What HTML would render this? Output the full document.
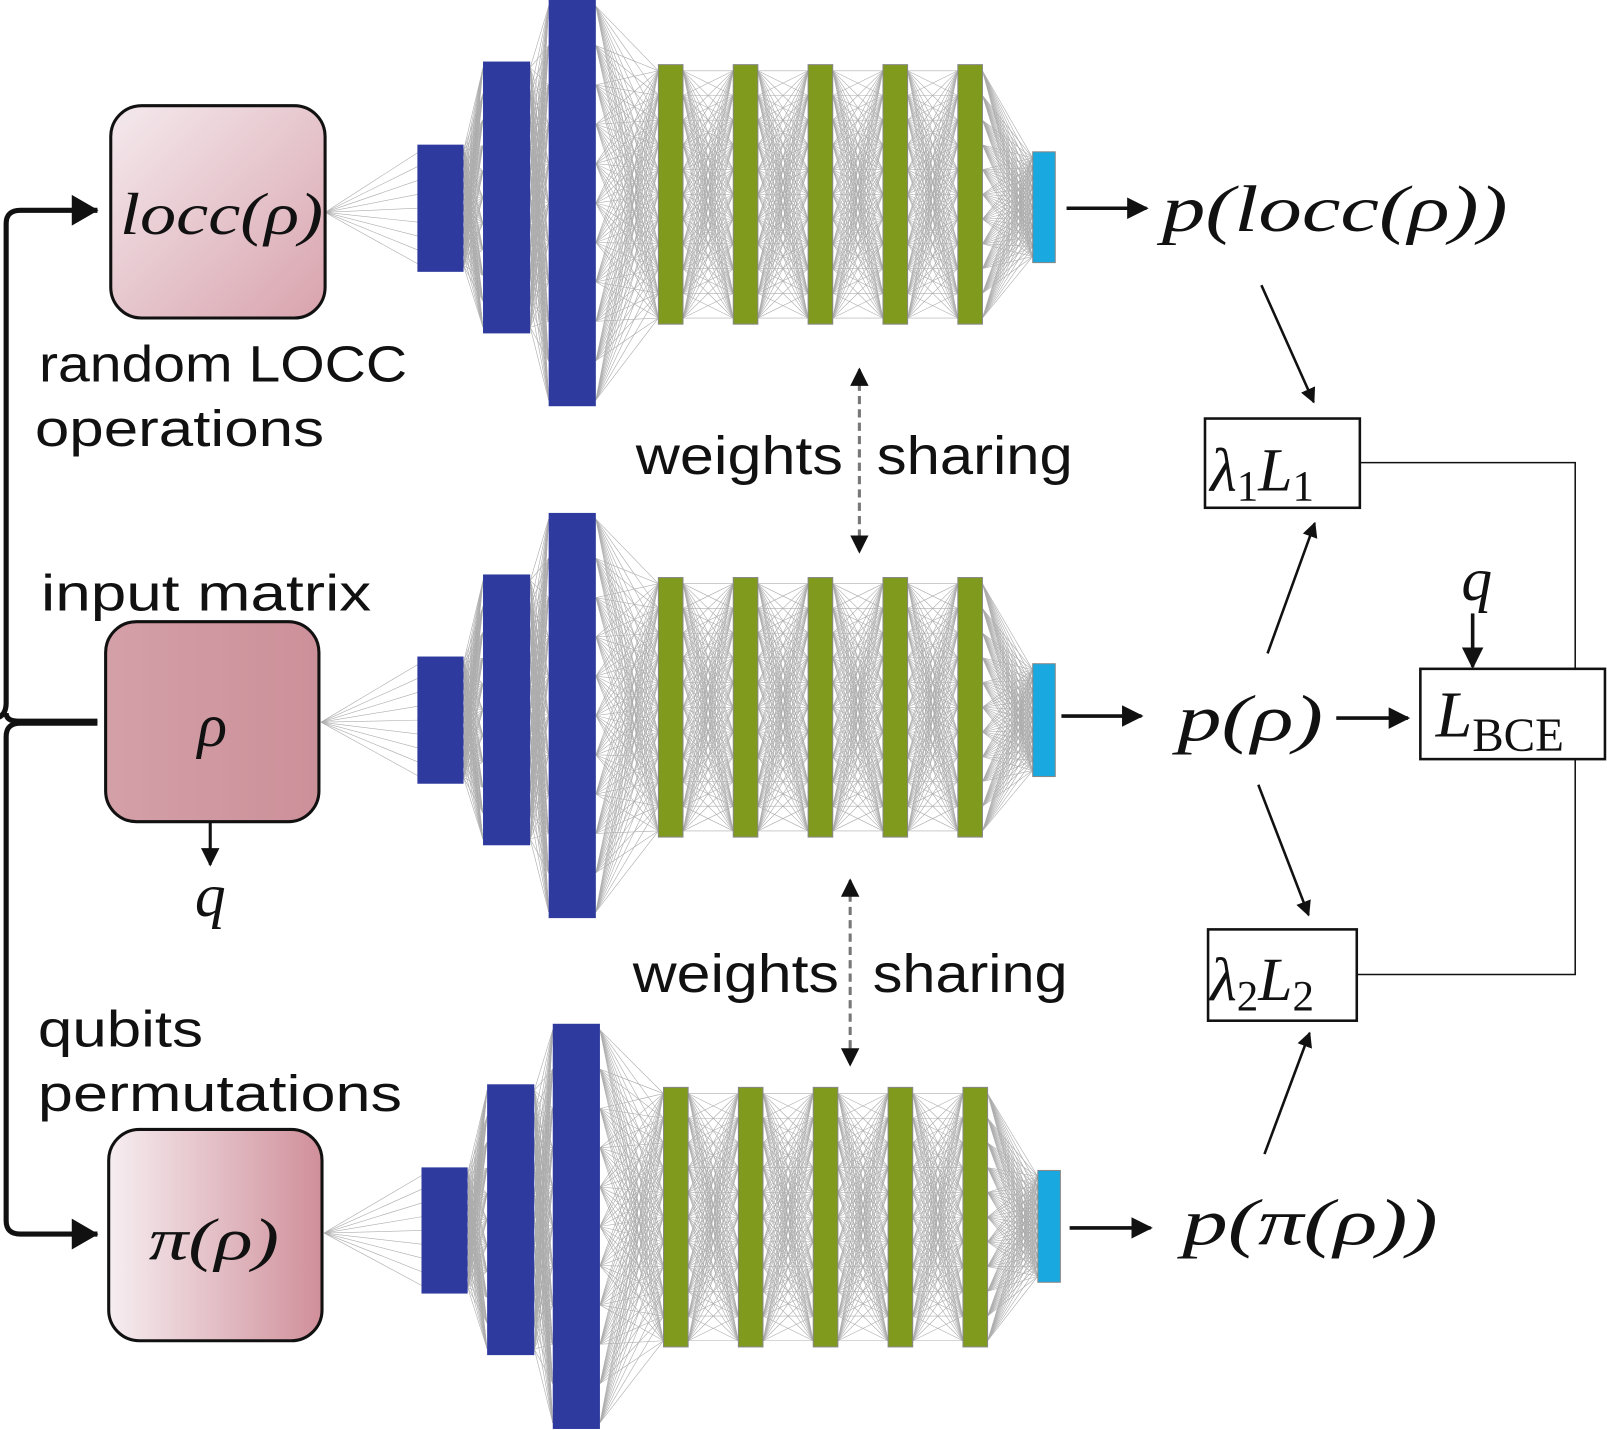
<!DOCTYPE html>
<html><head><meta charset="utf-8">
<style>
html,body{margin:0;padding:0;background:#fff;}
svg{display:block;}
.s{font-family:"Liberation Sans","DejaVu Sans",sans-serif;fill:#111;}
.m{font-family:"Liberation Serif","DejaVu Serif",serif;font-style:italic;fill:#111;}
.r{font-family:"Liberation Serif","DejaVu Serif",serif;fill:#111;}
</style></head>
<body>
<svg id="sv" width="1607" height="1430" viewBox="0 0 1567 1394" preserveAspectRatio="none" xmlns="http://www.w3.org/2000/svg">
<defs>
<linearGradient id="g1" x1="0" y1="0" x2="1" y2="1"><stop offset="0" stop-color="#f4eaee"/><stop offset="1" stop-color="#d9a3ad"/></linearGradient>
<linearGradient id="g2" x1="0" y1="0" x2="1" y2="0"><stop offset="0" stop-color="#d4a0a8"/><stop offset="1" stop-color="#cc9099"/></linearGradient>
<linearGradient id="g3" x1="0" y1="0" x2="1" y2="0"><stop offset="0" stop-color="#f6eef1"/><stop offset="1" stop-color="#d08f9a"/></linearGradient>
<marker id="ah" viewBox="0 0 10 10" refX="9" refY="5" markerWidth="6" markerHeight="6" orient="auto-start-reverse"><path d="M0,0L10,5L0,10z" fill="#111"/></marker>
</defs>
<g id="mesh" stroke="#777" stroke-width="0.6" opacity="0.6"></g>
<g id="layers"></g>

<rect x="108" y="103" width="209" height="207" rx="30" fill="url(#g1)" stroke="#111" stroke-width="3"/>
<rect x="103" y="606" width="208" height="195" rx="30" fill="url(#g2)" stroke="#111" stroke-width="3"/>
<rect x="106" y="1101" width="208" height="206" rx="30" fill="url(#g3)" stroke="#111" stroke-width="3"/>
<text class="m" x="117" y="228" font-size="58" textLength="198" lengthAdjust="spacingAndGlyphs">locc(ρ)</text>
<text class="m" x="207" y="727" font-size="60" text-anchor="middle">ρ</text>
<text class="m" x="145" y="1228" font-size="58" textLength="127" lengthAdjust="spacingAndGlyphs">π(ρ)</text>

<text class="s" x="38" y="372" font-size="50" textLength="359" lengthAdjust="spacingAndGlyphs">random LOCC</text>
<text class="s" x="34" y="435" font-size="50" textLength="282" lengthAdjust="spacingAndGlyphs">operations</text>
<text class="s" x="40" y="595" font-size="50" textLength="322" lengthAdjust="spacingAndGlyphs">input matrix</text>
<text class="s" x="37" y="1020" font-size="50" textLength="161" lengthAdjust="spacingAndGlyphs">qubits</text>
<text class="s" x="37" y="1083" font-size="50" textLength="355" lengthAdjust="spacingAndGlyphs">permutations</text>

<line x1="205" y1="801" x2="205" y2="843" stroke="#111" stroke-width="3" marker-end="url(#ah)"/>
<text class="m" x="205" y="893" font-size="60" text-anchor="middle">q</text>

<path d="M95,205 L20,205 Q6,205 6,218 L6,685 Q6,698 -4,700 M95,705 L20,705 Q6,705 6,718 L6,1190 Q6,1203 20,1203 L95,1203" fill="none" stroke="#111" stroke-width="5"/>
<path d="M95,703 L18,703 Q6,703 6,695" fill="none" stroke="#111" stroke-width="5"/>
<path d="M70,190 L96,205 L70,220z" fill="#111"/>
<path d="M70,1188 L96,1203 L70,1218z" fill="#111"/>

<text class="s" x="620" y="462" font-size="52" textLength="202" lengthAdjust="spacingAndGlyphs">weights</text>
<text class="s" x="855" y="462" font-size="52" textLength="191" lengthAdjust="spacingAndGlyphs">sharing</text>
<line x1="838" y1="360" x2="838" y2="538" stroke="#777" stroke-width="3" stroke-dasharray="8,5" marker-start="url(#ah)" marker-end="url(#ah)"/>
<text class="s" x="617" y="967" font-size="52" textLength="201" lengthAdjust="spacingAndGlyphs">weights</text>
<text class="s" x="851" y="967" font-size="52" textLength="190" lengthAdjust="spacingAndGlyphs">sharing</text>
<line x1="829" y1="858" x2="829" y2="1038" stroke="#777" stroke-width="3" stroke-dasharray="8,5" marker-start="url(#ah)" marker-end="url(#ah)"/>

<line x1="1040" y1="203" x2="1118" y2="203" stroke="#111" stroke-width="3.5" marker-end="url(#ah)"/>
<text class="m" x="1133" y="225" font-size="64" textLength="337" lengthAdjust="spacingAndGlyphs">p(locc(ρ))</text>
<line x1="1035" y1="698" x2="1113" y2="698" stroke="#111" stroke-width="3.5" marker-end="url(#ah)"/>
<text class="m" x="1148" y="722" font-size="64" textLength="142" lengthAdjust="spacingAndGlyphs">p(ρ)</text>
<line x1="1303" y1="700" x2="1373" y2="700" stroke="#111" stroke-width="3.5" marker-end="url(#ah)"/>
<line x1="1043" y1="1197" x2="1122" y2="1197" stroke="#111" stroke-width="3.5" marker-end="url(#ah)"/>
<text class="m" x="1153" y="1213" font-size="64" textLength="249" lengthAdjust="spacingAndGlyphs">p(π(ρ))</text>

<rect x="1175" y="408" width="151" height="87" fill="#fff" stroke="#111" stroke-width="2.5"/>
<text class="m" x="1180" y="478" font-size="60">λ<tspan class="r" font-style="normal" font-size="42" dy="10">1</tspan><tspan dy="-10">L</tspan><tspan class="r" font-style="normal" font-size="42" dy="10">1</tspan></text>
<rect x="1178" y="906" width="145" height="89" fill="#fff" stroke="#111" stroke-width="2.5"/>
<text class="m" x="1180" y="975" font-size="60">λ<tspan class="r" font-style="normal" font-size="42" dy="10">2</tspan><tspan dy="-10">L</tspan><tspan class="r" font-style="normal" font-size="42" dy="10">2</tspan></text>
<rect x="1385" y="652" width="180" height="88" fill="#fff" stroke="#111" stroke-width="2.5"/>
<text class="m" x="1400" y="718" font-size="64">L<tspan class="r" font-style="normal" font-size="46" dy="14">BCE</tspan></text>

<polyline points="1326,451 1536,451 1536,652" fill="none" stroke="#111" stroke-width="1.5"/>
<polyline points="1536,740 1536,950 1323,950" fill="none" stroke="#111" stroke-width="1.5"/>

<line x1="1230" y1="278" x2="1281" y2="392" stroke="#111" stroke-width="2.5" marker-end="url(#ah)"/>
<line x1="1236" y1="637" x2="1282" y2="510" stroke="#111" stroke-width="2.5" marker-end="url(#ah)"/>
<line x1="1227" y1="765" x2="1276" y2="892" stroke="#111" stroke-width="2.5" marker-end="url(#ah)"/>
<line x1="1233" y1="1125" x2="1277" y2="1007" stroke="#111" stroke-width="2.5" marker-end="url(#ah)"/>
<text class="m" x="1440" y="585" font-size="60" text-anchor="middle">q</text>
<line x1="1436" y1="598" x2="1436" y2="650" stroke="#111" stroke-width="3.5" marker-end="url(#ah)"/>
</svg>
<script>
(function(){
var NS="http://www.w3.org/2000/svg";
var mesh=document.getElementById("mesh"),lay=document.getElementById("layers");
function R(x,y,w,h,c){var r=document.createElementNS(NS,"rect");r.setAttribute("x",x);r.setAttribute("y",y);r.setAttribute("width",w);r.setAttribute("height",h);r.setAttribute("fill",c);if(c=="#7f9a1c"||c=="#19a8e0"){r.setAttribute("stroke","#888");r.setAttribute("stroke-width","1");}lay.appendChild(r);}
function L(a,b,c,d){var l=document.createElementNS(NS,"line");l.setAttribute("x1",a);l.setAttribute("y1",b);l.setAttribute("x2",c);l.setAttribute("y2",d);mesh.appendChild(l);}
function net(src,blue,gx,gy0,gy1,cy){
 var layers=[];
 blue.forEach(function(b){layers.push({x:b[0],w:b[1],y0:b[2],y1:b[3],c:"#2e3a9e"});});
 gx.forEach(function(x){layers.push({x:x,w:24,y0:gy0,y1:gy1,c:"#7f9a1c"});});
 layers.push({x:cy[0],w:22,y0:cy[1],y1:cy[2],c:"#19a8e0"});
 var f=layers[0];
 for(var i=0;i<9;i++){L(src[0],src[1],f.x,f.y0+8+i*(f.y1-f.y0-16)/8);}
 for(var k=0;k<layers.length-1;k++){
  var a=layers[k],b=layers[k+1],na=11,nb=11;
  for(var i=0;i<na;i++)for(var j=0;j<nb;j++){
   L(a.x+a.w,a.y0+6+i*(a.y1-a.y0-12)/(na-1),b.x,b.y0+6+j*(b.y1-b.y0-12)/(nb-1));
  }
 }
 layers.forEach(function(l){R(l.x,l.y0,l.w,l.y1-l.y0,l.c);});
}
net([317,207],[[407,45,141,265],[471,46,60,325],[535,46,0,396]],[642,715,788,861,934],63,316,[1007,148,256]);
net([313,704],[[407,45,640,764],[471,46,560,824],[535,46,500,895]],[642,715,788,861,934],563,816,[1007,647,757]);
net([316,1202],[[411,45,1138,1261],[475,46,1057,1321],[539,46,998,1393]],[647,720,793,866,939],1060,1313,[1012,1141,1250]);
})();
</script>
</body></html>
